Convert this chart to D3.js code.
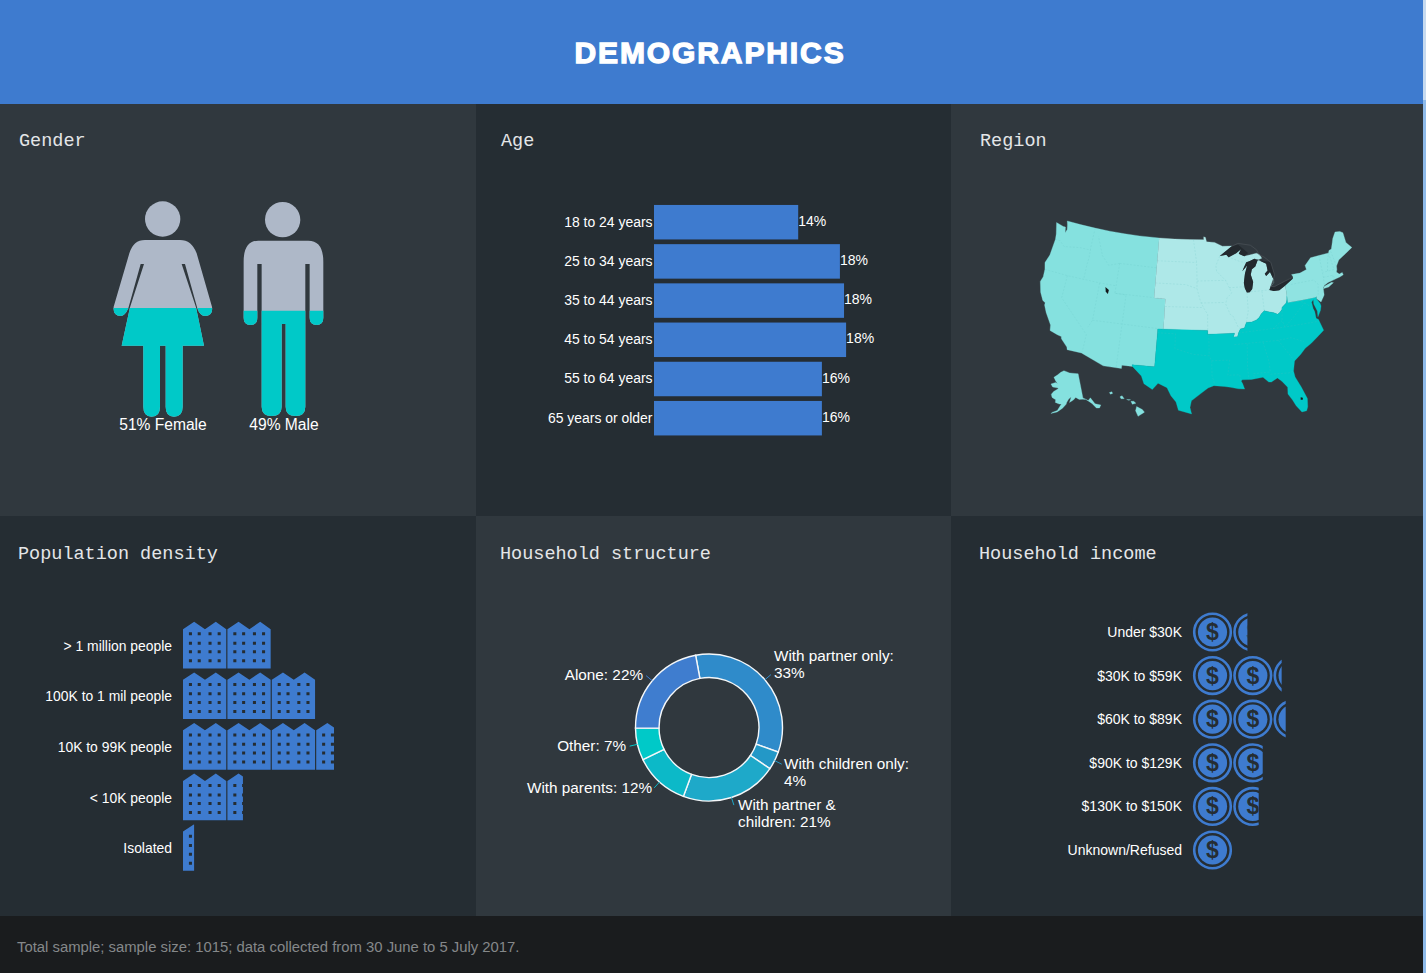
<!DOCTYPE html>
<html><head><meta charset="utf-8">
<script src="https://cdn.jsdelivr.net/npm/d3@7"></script>
<style>
html,body{margin:0;padding:0;background:#a8c8ec;overflow:hidden}
svg{display:block}
text{font-family:"Liberation Sans",Arial,sans-serif;fill:#fff}
.title{font-family:"Liberation Mono",monospace;font-size:18.5px;fill:#e4e6e8}
.domain{display:none}
</style></head><body>
<svg id="c" width="1426" height="973"></svg>
<script>
// ---------- data ----------
const pageTitle = "DEMOGRAPHICS";
const footerText = "Total sample; sample size: 1015; data collected from 30 June to 5 July 2017.";
const panelTitles = ["Gender","Age","Region","Population density","Household structure","Household income"];

const genderLabels = ["51% Female","49% Male"];
const genderValues = [50.2,49];

const ageCategories = ["18 to 24 years","25 to 34 years","35 to 44 years","45 to 54 years","55 to 64 years","65 years or older"];
const ageValues = [14,18.05,18.45,18.65,16.3,16.3];
const ageLabels = ["14%","18%","18%","18%","16%","16%"];

const densityCategories = ["> 1 million people","100K to 1 mil people","10K to 99K people","< 10K people","Isolated"];
const densityValues = [20,30,34,13.5,2.5];

const householdCategories = ["With partner only","With children only","With partner & children","With parents","Other","Alone"];
const householdValues = [33,4,21,12,7,22];
const householdColors = ["#2f8bca","#2398c7","#1ea9c9","#0cb9c8","#00c9c8","#3f7dcf"];
const householdLabelLines = [["With partner only:","33%"],["With children only:","4%"],["With partner &","children: 21%"],["With parents: 12%"],["Other: 7%"],["Alone: 22%"]];

const incomeCategories = ["Under $30K","$30K to $59K","$60K to $89K","$90K to $129K","$130K to $150K","Unknown/Refused"];
const incomeValues = [13.5,22,23,17.3,16.3,9.8];

// region outlines, [longitude, latitude]
const ohioRiver = [[-80.52,40.64],[-80.65,40.1],[-80.85,39.7],[-81.7,39.2],[-81.75,38.95],[-82.2,38.6],[-82.6,38.4],[-83.2,38.65],[-84.3,38.95],[-84.8,39.1],[-85.4,38.7],[-85.8,38.27],[-86.3,38],[-87.1,37.8],[-88.05,37.8],[-88.45,37.1],[-89.15,37],[-89.5,36.5],[-89.7,36],[-90.37,36],[-90.15,36.5],[-92,36.5],[-94.62,36.5],[-94.62,37]];
const westRing = [[-117.12,32.53],[-117.25,32.85],[-118.4,33.75],[-118.5,34.03],[-119.2,34.15],[-120.5,34.45],[-120.65,35.15],[-121.9,36.6],[-122.5,37.5],[-122.5,37.8],[-123,38],[-123.75,38.95],[-124.35,40.3],[-124.1,41],[-124.2,42],[-124.55,42.85],[-124.1,44],[-123.95,46.2],[-124.1,46.9],[-124.7,48.38],[-123.2,48.15],[-122.75,48.15],[-122.5,47.4],[-122.3,47.9],[-122.5,48.5],[-122.75,49],[-120,49],[-117,49],[-114,49],[-111,49],[-108,49],[-104.05,49],[-104.05,45],[-104.05,41],[-102.05,41],[-102.05,37],[-103,37],[-103,36.5],[-103.06,32],[-106.62,32],[-106.53,31.78],[-108.2,31.78],[-108.2,31.33],[-111.07,31.33],[-114.8,32.5]];
const midwestRing = [[-104.05,49],[-101,49],[-98,49],[-95.15,49],[-95.15,49.38],[-94.8,49.3],[-94.6,48.7],[-93,48.6],[-91.5,48.05],[-89.6,48],[-92.1,46.75],[-90.8,46.9],[-90.4,46.55],[-88.9,47],[-87.9,47.47],[-88.4,46.9],[-87.4,46.5],[-85,46.75],[-84.4,46.5],[-84.1,46],[-84.7,45.9],[-85.5,46.05],[-86.5,45.8],[-87.1,45.7],[-87.6,45.1],[-88,44.55],[-87,45.25],[-87.55,44.2],[-87.9,43],[-87.8,42.3],[-87.5,41.7],[-87,41.7],[-86.5,42.1],[-86.2,43],[-86.5,44],[-86.2,44.7],[-85.5,45],[-85,45.7],[-84.7,45.78],[-83.4,45.2],[-83.3,44.3],[-83.9,43.9],[-83.7,43.6],[-82.9,44.05],[-82.45,43],[-82.5,42.6],[-83.1,42.2],[-83.45,41.72],[-82.7,41.5],[-81.7,41.5],[-80.52,41.98]].concat(ohioRiver,[[-98,37],[-102.05,37],[-102.05,41],[-104.05,41],[-104.05,45]]);
const southRing = [[-103,37],[-94.62,37]].concat(ohioRiver.slice().reverse().slice(1),[[-80.52,39.72],[-78,39.72],[-75.79,39.72],[-75.42,39.8],[-75.55,39.5],[-75.1,38.8],[-75.05,38.45],[-75.3,37.9],[-75.95,37.15],[-75.85,37.9],[-76.2,38.9],[-76.1,39.5],[-76.5,39.2],[-76.45,38.3],[-76.3,37.9],[-76.3,37],[-75.95,36.8],[-75.5,35.25],[-76.5,34.7],[-77.9,33.9],[-79,33.4],[-79.9,32.7],[-81,32],[-81.4,30.7],[-81.3,29.9],[-80.6,28.4],[-80,26.8],[-80.15,25.7],[-80.4,25.2],[-81.1,25.15],[-81.8,26.1],[-82.2,26.9],[-82.75,27.8],[-82.65,28.7],[-83.4,29.6],[-84,30.1],[-85,29.65],[-85.4,29.7],[-86.2,30.4],[-88,30.25],[-89.4,30.3],[-89.6,30.15],[-89.4,29.8],[-89.15,29.05],[-90.1,29.15],[-91.3,29.4],[-92.2,29.55],[-93.8,29.7],[-94.7,29.4],[-95.9,28.6],[-97.2,27.7],[-97.4,26.8],[-97.15,25.95],[-99.1,26.4],[-99.5,27.5],[-100.3,28.3],[-100.95,29.35],[-102.35,29.85],[-103.15,28.98],[-104.5,29.65],[-105,30.65],[-106.53,31.78],[-106.62,32],[-103.06,32],[-103,36.5]]);
const northeastRing = [[-80.52,41.98],[-79,42.7],[-78.9,42.9],[-79.05,43.27],[-77.5,43.25],[-76.2,43.55],[-76.3,44.1],[-75,44.95],[-71.5,45.01],[-71.3,45.3],[-70.8,45.4],[-70.3,46.2],[-70,46.7],[-69.23,47.46],[-68.3,47.35],[-67.8,47.07],[-67.8,45.7],[-67,44.85],[-68.5,44.3],[-70,43.75],[-70.7,43.05],[-70.8,42.6],[-71,42.3],[-70.6,41.95],[-70,42.05],[-69.95,41.7],[-70.65,41.55],[-71.4,41.45],[-72.9,41.25],[-73.65,41],[-74,40.7],[-74,40.45],[-74.1,39.75],[-74.9,38.95],[-75.5,39.5],[-75.42,39.8],[-75.79,39.72],[-78,39.72],[-80.52,39.72],[-80.52,40.64]];
const longIslandRing = [[-74,40.6],[-73.7,40.87],[-72.3,41.15],[-72,41.05],[-73,40.65]];
const alaskaRing = [[-156.5,71.3],[-150,70.4],[-141,69.65],[-141,60.3],[-137.5,58.9],[-135.5,59.7],[-133.5,57],[-130,55.9],[-131.5,55],[-133.5,55.3],[-135.5,57.5],[-137,58.4],[-139.5,59.7],[-144,60],[-146.5,60.9],[-148.5,60],[-151.5,59.2],[-150,61.2],[-152,60.5],[-153.5,59.3],[-154,58.5],[-156.5,57],[-160,55.5],[-164,54.6],[-163,55.2],[-160,56],[-157.5,58.6],[-159,58.5],[-162,59],[-162,60],[-165,60.7],[-166,61.8],[-164.5,63],[-161,64.2],[-161,64.5],[-166,64.6],[-168,65.6],[-164,66.5],[-162,66.2],[-164,67],[-166.5,68.3],[-163,69.5],[-160,70.6]];
const hawaiiRings = [[[-155.9,20.25],[-155.1,19.85],[-154.8,19.5],[-155.7,18.95],[-156.05,19.7]],[[-156.7,20.95],[-156.3,20.95],[-156,20.7],[-156.5,20.55]],[[-158.25,21.55],[-157.95,21.7],[-157.65,21.3],[-158.1,21.3]],[[-159.75,22.1],[-159.4,22.22],[-159.3,22],[-159.6,21.9]],[[-157.3,21.2],[-156.75,21.17],[-157,21.08]]];
const lakeMichigan = [[-87.5,41.7],[-87,41.7],[-86.5,42.1],[-86.2,43],[-86.5,44],[-86.2,44.7],[-85.5,45],[-85,45.7],[-85.5,46.05],[-86.5,45.8],[-87.1,45.7],[-87.6,45.1],[-88,44.55],[-87,45.25],[-87.55,44.2],[-87.9,43],[-87.8,42.3]];
const lakeSuperior = [[-92.1,46.75],[-90.8,46.9],[-90.4,46.55],[-88.9,47],[-87.9,47.47],[-88.4,46.9],[-87.4,46.5],[-86.6,46.9],[-87.6,47.6],[-88.4,48.1],[-89.6,48]];
const lakeErieHuron = [[-84.7,45.78],[-83.4,45.2],[-83.3,44.3],[-83.9,43.9],[-83.7,43.6],[-82.9,44.05],[-82.45,43],[-82.5,42.6],[-83.1,42.2],[-83.45,41.72],[-82.7,41.5],[-81.7,41.5],[-80.52,41.98],[-79,42.7],[-78.9,42.9],[-79.05,43.27],[-79,42.95],[-80.5,42.55],[-82.5,42.05],[-83.1,42.15],[-82.5,43],[-82.15,43.6],[-82.53,45.35]];
const saltLake = [[-112.9,41.6],[-112.2,41.3],[-112.25,40.75],[-112.7,41]];
const okeechobee = [[-80.95,27.1],[-80.65,27],[-80.7,26.75],[-81,26.8]];
const borderLine = [[-89.6,48],[-88.4,48.3],[-86,47.9],[-84.9,47.2],[-84.5,46.5],[-83.6,46.1],[-82.5,45.3],[-82.15,43.6],[-82.5,43],[-83.1,42.15],[-82.5,42.05],[-80.5,42.55],[-78.9,42.9]];
const stateLines = [
 [[-124,46.2],[-123,46.2],[-122,45.6],[-119,46],[-116.9,46]],[[-117,49],[-117,46.4],[-116.9,45],[-117,44],[-117,42]],[[-124.2,42],[-120,42],[-114,42],[-111.05,42]],[[-120,42],[-120,39],[-114.6,35],[-114.7,32.7]],[[-114.05,42],[-114.05,37],[-114.6,36]],[[-111.05,45],[-111.05,41],[-109.05,41],[-109.05,31.33]],[[-114.05,37],[-102.05,37]],[[-111.05,45],[-113,44.5],[-114.5,45.6],[-116,48]],[[-111.05,45],[-104.05,45]],[[-111.05,41],[-102.05,41]],
 [[-104.05,45.95],[-96.55,45.95]],[[-104.05,43],[-98.5,43],[-96.45,42.5]],[[-97.2,49],[-96.55,45.95],[-96.45,43.5],[-96.45,42.5],[-95.9,41],[-95.3,40],[-94.6,39.1],[-94.62,37]],[[-102.05,40],[-95.3,40]],[[-96.45,43.5],[-91.2,43.5]],[[-92.1,46.75],[-92.9,45.5],[-92.8,44.75],[-91.2,43.5],[-90.2,41.8],[-91.1,41.2],[-91.4,40.4],[-90.7,39],[-90.2,38.7],[-89.5,37.3],[-89.15,37]],[[-95.8,40.6],[-91.7,40.6]],[[-90.65,42.5],[-87.8,42.5]],[[-88.05,37.8],[-87.55,39.3],[-87.5,41.7]],[[-87.1,45.7],[-88.1,45.8],[-90.4,46.55]],[[-84.8,39.1],[-84.8,41.7]],[[-86.8,41.76],[-83.45,41.72]],
 [[-79.5,42],[-75.35,42],[-74.7,41.35],[-75.1,40]],[[-73.35,45],[-73.5,42.05],[-73.65,41]],[[-71.5,45],[-71.3,42.7],[-73.3,42.7]],[[-73.5,42.05],[-71.8,42],[-71.4,41.5]],[[-71.8,42],[-71.85,41.3]],[[-72.5,42.72],[-72.05,44],[-71.5,45]],[[-70.7,43.05],[-71.05,45.3]],
 [[-103,36.5],[-100,36.5],[-100,34.55],[-97,33.85],[-94.45,33.65],[-94.05,33],[-94.05,31],[-93.7,30]],[[-94.45,36.5],[-94.45,33.65]],[[-94.05,33],[-91.2,33],[-91.6,31],[-89.75,31],[-89.6,30.15]],[[-90.3,35],[-83.1,35],[-81,35.1],[-79,34.3]],[[-89.5,36.5],[-81.7,36.6],[-75.95,36.55]],[[-88.2,35],[-88.45,31.9],[-88.4,30.3]],[[-85.6,35],[-85,32.3],[-85,31],[-87.6,31],[-87.5,30.3]],[[-85,30.7],[-82.2,30.55],[-81.4,30.7]],[[-83.1,35],[-81,32]],[[-81.7,36.6],[-82,37.5],[-83.7,36.6]],[[-81.7,39.2],[-82,37.5]],[[-79.5,39.7],[-78.4,39.6],[-77.7,39.3],[-80.3,37.5],[-81.7,36.6]],[[-77.7,39.3],[-77,38.8],[-76.3,38]]
];

// ---------- page frame ----------
const svg = d3.select("#c");
const defs = svg.append("defs");
const LIGHT = "#30383e", DARK = "#252d33", BLUE = "#3e7bcf", TEAL = "#00c9c8";
const panelCols = [[0,476],[476,951],[951,1423]];
const panelRows = [[104,516],[516,916]];
const titlePos = [[19,146],[501,146],[980,146],[18,559],[500,559],[979,559]];
svg.append("rect").attr("x",1423).attr("width",3).attr("height",100).attr("fill","#c6daf0");
svg.append("rect").attr("x",1423).attr("y",100).attr("width",3).attr("height",873).attr("fill","#8fbbea");
panelRows.forEach((r,i)=>panelCols.forEach((c,j)=>{
  svg.append("rect").attr("x",c[0]).attr("y",r[0]).attr("width",c[1]-c[0]).attr("height",r[1]-r[0])
     .attr("fill",(i+j)%2===0?LIGHT:DARK);
}));
svg.append("rect").attr("width",1423).attr("height",104).attr("fill",BLUE);
svg.append("rect").attr("y",916).attr("width",1423).attr("height",57).attr("fill","#1a1c1e");
svg.append("text").attr("x",710).attr("y",63).attr("text-anchor","middle")
   .attr("font-size",30).attr("font-weight",700).attr("stroke","#fff").attr("stroke-width",1.3).attr("letter-spacing",1.9).text(pageTitle);
svg.append("text").attr("x",17).attr("y",952).attr("font-size",14.85).style("fill","#85888a").text(footerText);
panelTitles.forEach((t,i)=>svg.append("text").attr("class","title").attr("x",titlePos[i][0]).attr("y",titlePos[i][1]).text(t));

// ---------- gender ----------
const genderY = d3.scaleLinear().domain([0,100]).range([416,201]);
const femalePath = "M165,150H270Q305,150 320,190L366,350Q370,378 345,378Q330,378 322,355L285,222H275L318,352L342,467H278V650Q278,680 252,680Q227,680 227,650V467H210V650Q210,680 185,680Q160,680 160,650V467H95L120,352L162,222H152L115,355Q105,378 92,378Q68,378 71,350L118,190Q130,150 165,150Z";
const malePath = "M505,152H655Q700,152 700,215V383Q700,405 680,405Q659,405 659,383V222H646V650Q646,678 617,678Q587,678 587,650V402H575V650Q575,678 545,678Q515,678 515,650V222H502V383Q502,405 481,405Q461,405 461,383V215Q461,152 505,152Z";
const people = [{b:femalePath,hx:218,hy:87,lx:163},{b:malePath,hx:578,hy:89,lx:284}];
people.forEach((p,i)=>{
  const id="pc"+i;
  defs.append("clipPath").attr("id",id).append("rect").attr("x",90).attr("width",280)
      .attr("y",genderY(genderValues[i])).attr("height",genderY(0)-genderY(genderValues[i])+4);
  const gray = svg.append("g").attr("transform","translate(90,190) scale(.3333)");
  gray.append("circle").attr("cx",p.hx).attr("cy",p.hy).attr("r",53).attr("fill","#aeb8c8");
  gray.append("path").attr("d",p.b).attr("fill","#aeb8c8");
  svg.append("g").attr("clip-path",`url(#${id})`).append("g").attr("transform","translate(90,190) scale(.3333)")
     .append("path").attr("d",p.b).attr("fill",TEAL);
  svg.append("text").attr("font-size",15.6).attr("x",p.lx).attr("y",430).attr("text-anchor","middle").text(genderLabels[i]);
});

// ---------- age ----------
const ageX = d3.scaleLinear().domain([0,20]).range([654,860]);
const ageY = d3.scaleBand().domain(ageCategories).range([202.6,437.8]).paddingInner(.12).paddingOuter(.06);
svg.selectAll(".ageBar").data(ageCategories).join("rect")
   .attr("x",ageX(0)).attr("y",d=>ageY(d)).attr("height",ageY.bandwidth())
   .attr("width",(d,i)=>ageX(ageValues[i])-ageX(0)).attr("fill",BLUE);
const ageAxis = svg.append("g").attr("transform","translate(652.5,0)").call(d3.axisLeft(ageY).tickSize(0).tickPadding(0));
ageAxis.selectAll("text").attr("font-family",null).style("font-size","13.95px");
svg.selectAll(".ageVal").data(ageCategories).join("text").attr("font-size",14)
   .attr("x",(d,i)=>ageX(ageValues[i])).attr("y",d=>ageY(d)+ageY.bandwidth()/2+3.5).text((d,i)=>ageLabels[i]);

// ---------- region map ----------
const proj = d3.geoAlbersUsa().scale(432).translate([1196,317.5]);
const geoPath = d3.geoPath(proj);
// rings are listed as plain lon/lat outlines, so area winding is normalised to the small side
const poly = ring => {
  const r = ring.concat([ring[0]]);
  const g = {type:"Polygon",coordinates:[r]};
  return d3.geoArea(g) > 2*Math.PI ? {type:"Polygon",coordinates:[r.slice().reverse()]} : g;
};
const regionFeatures = [
  {rings:[westRing],fill:"#85e1df"},{rings:[midwestRing],fill:"#aee8e8"},
  {rings:[southRing],fill:TEAL},{rings:[northeastRing,longIslandRing],fill:"#8fe3e1"},
  {rings:[alaskaRing].concat(hawaiiRings),fill:"#85e1df"}
];
regionFeatures.forEach(f=>f.rings.forEach(r=>{
  svg.append("path").attr("d",geoPath(poly(r))).attr("fill",f.fill).attr("stroke",f.fill).attr("stroke-width",.3);
}));
svg.append("g").selectAll("path").data(stateLines).join("path")
   .attr("d",d=>geoPath({type:"LineString",coordinates:d})).attr("fill","none")
   .attr("stroke","#5dbdbc").attr("stroke-opacity",.3).attr("stroke-width",.6).attr("stroke-dasharray","2 1.5");
[lakeMichigan,lakeSuperior,lakeErieHuron].forEach(r=>svg.append("path").attr("d",geoPath(poly(r))).attr("fill","#23292e"));
[saltLake,okeechobee].forEach(r=>svg.append("path").attr("d",geoPath(poly(r))).attr("fill","#14181b"));
svg.append("path").attr("d",geoPath({type:"LineString",coordinates:borderLine})).attr("fill","none").attr("stroke","#4a5258").attr("stroke-width",.7);

// ---------- population density ----------
const densX = d3.scaleLinear().domain([0,10]).range([183,227.4]);
const densRowTop = d3.scaleBand().domain(densityCategories).range([621,874]).padding(0);
const buildingPath = (()=>{
  let p="M0,22L33,0L65,22L97,0L128,22V140H0Z";
  [22,48,80,107].forEach(x=>[36,64,90,117].forEach(y=>{p+=`M${x-4.5},${y-4.5}v9h9v-9Z`;}));
  return p;
})();
densityCategories.forEach((c,i)=>{
  const y = densRowTop(c)+.8, total = densX(densityValues[i])-densX(0), step = densX(10)-densX(0);
  const id="dc"+i;
  defs.append("clipPath").attr("id",id).append("rect").attr("x",183).attr("y",y-2).attr("width",total).attr("height",52);
  const g = svg.append("g").attr("clip-path",`url(#${id})`);
  d3.range(Math.ceil(densityValues[i]/10)).forEach(k=>{
    g.append("path").attr("d",buildingPath).attr("fill-rule","evenodd").attr("fill",BLUE)
     .attr("transform",`translate(${183+k*step},${y}) scale(.338,.3333)`);
  });
  svg.append("text").attr("font-size",13.9).attr("x",172).attr("y",y+29).attr("text-anchor","end").text(c);
});

// ---------- household donut ----------
const cx=709, cy=727.5, rOut=73.5, rIn=50;
const a0=-10.5*Math.PI/180;
const pie=d3.pie().sort(null).startAngle(a0).endAngle(a0+2*Math.PI)(householdValues);
const arc=d3.arc().innerRadius(rIn).outerRadius(rOut);
const donut=svg.append("g").attr("transform",`translate(${cx},${cy})`);
donut.selectAll("path").data(pie).join("path").attr("d",arc).attr("fill",(d,i)=>householdColors[i])
     .attr("stroke","#f4f7f9").attr("stroke-width",1.4);
donut.selectAll("line").data(pie).join("line")
  .each(function(d,i){
    const m=(d.startAngle+d.endAngle)/2, s=Math.sin(m), c=-Math.cos(m);
    d3.select(this).attr("x1",s*rOut).attr("y1",c*rOut).attr("x2",s*(rOut+8)).attr("y2",c*(rOut+8));
  }).attr("stroke",(d,i)=>householdColors[i]).attr("stroke-width",1);
const labelAnchors=[[774,661,"start"],[784,769,"start"],[738,810,"start"],[652,793,"end"],[626,751,"end"],[643,680,"end"]];
householdLabelLines.forEach((lines,i)=>{
  lines.forEach((t,j)=>svg.append("text").attr("font-size",15.3).attr("x",labelAnchors[i][0]).attr("y",labelAnchors[i][1]+j*17)
     .attr("text-anchor",labelAnchors[i][2]).text(t));
});

// ---------- household income ----------
const incX = d3.scaleLinear().domain([0,10]).range([1193,1233.3]);
const incY = d3.scalePoint().domain(incomeCategories).range([632,850]);
incomeCategories.forEach((c,i)=>{
  const y=incY(c), id="ic"+i, step=incX(10)-incX(0);
  defs.append("clipPath").attr("id",id).append("rect").attr("x",1190).attr("y",y-22).attr("height",44)
      .attr("width",incX(incomeValues[i])-1190);
  const g=svg.append("g").attr("clip-path",`url(#${id})`);
  d3.range(Math.ceil(incomeValues[i]/10)).forEach(k=>{
    const x=1193+19.5+k*step;
    g.append("circle").attr("cx",x).attr("cy",y).attr("r",18.3).attr("fill","none").attr("stroke",BLUE).attr("stroke-width",2.6);
    g.append("circle").attr("cx",x).attr("cy",y).attr("r",14.6).attr("fill",BLUE);
    g.append("text").attr("x",x).attr("y",y+8).attr("text-anchor","middle").attr("font-size",23).attr("font-weight",700).style("fill",DARK).text("$");
  });
  svg.append("text").attr("font-size",14).attr("x",1182).attr("y",y+5).attr("text-anchor","end").text(c);
});
</script></body></html>
